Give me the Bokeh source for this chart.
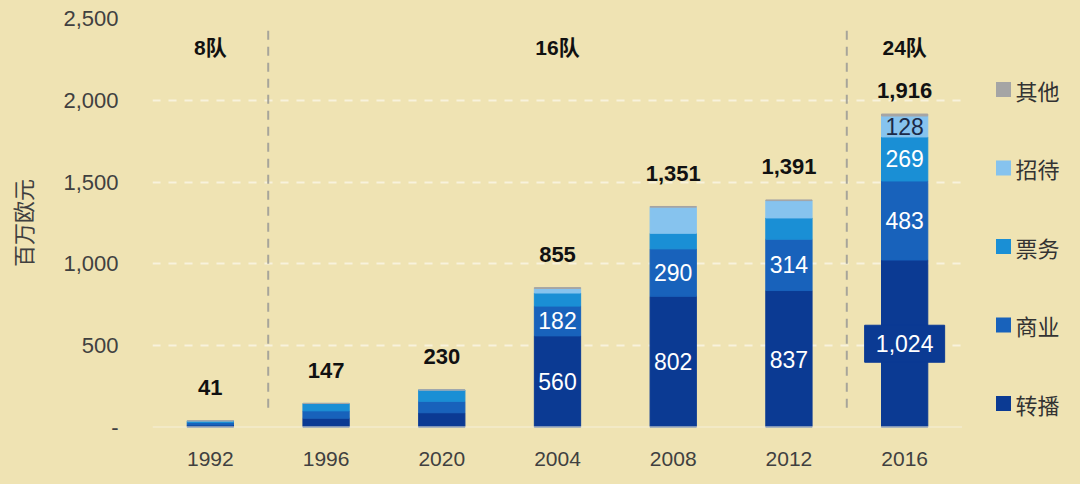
from bokeh.plotting import figure
from bokeh.layouts import row
from bokeh.models import (FactorRange, Range1d, ColumnDataSource, Span, CustomJSTickFormatter)
from bokeh.core.properties import value
from bokeh.embed import file_html
from bokeh.resources import INLINE

# ---------------- data ----------------
years = ["1992", "1996", "2020", "2004", "2008", "2012", "2016"]
series_names = ["转播", "商业", "票务", "招待", "其他"]
series_keys = ["broadcast", "commercial", "ticketing", "hospitality", "other"]
broadcast = [15, 57, 90, 560, 802, 837, 1024]
commercial = [16, 45, 70, 182, 290, 314, 483]
ticketing = [10, 45, 70, 80, 95, 130, 269]
hospitality = [0, 0, 0, 28, 160, 106, 128]
other = [0, 0, 0, 5, 4, 4, 12]
totals = [41, 147, 230, 855, 1351, 1391, 1916]
y_ticks = [0, 500, 1000, 1500, 2000, 2500]
groups = ["8队", "16队", "24队"]
group_years = ["1992", "2004", "2016"]
divider_after = ["1992", "2012"]
labeled_segments = [("2004", "broadcast"), ("2004", "commercial"),
                    ("2008", "broadcast"), ("2008", "commercial"),
                    ("2012", "broadcast"), ("2012", "commercial"),
                    ("2016", "broadcast"), ("2016", "commercial"),
                    ("2016", "ticketing"), ("2016", "hospitality")]
boxed_segment = ("2016", "broadcast")

# ---------------- style ----------------
bg = "#efe3b3"
colors = ["#0b3a93", "#1862bb", "#1a8fd5", "#86c3ee", "#a5a5a5"]
num_font = "Liberation Sans"
cjk_font = "Noto Sans CJK SC"
mixed_font = "Liberation Sans, Noto Sans CJK SC"
W_MAIN, W_LEG, H = 962, 102, 468
B_TOP, B_BOTTOM = 18, 41

data = dict(zip(series_keys, [broadcast, commercial, ticketing, hospitality, other]))
src = ColumnDataSource(dict(years=years, **data))

p = figure(x_range=FactorRange(factors=years), y_range=Range1d(0, 2500),
           width=W_MAIN, height=H, output_backend="svg", toolbar_location=None,
           min_border_left=152, min_border_right=0, min_border_top=B_TOP,
           min_border_bottom=B_BOTTOM)
p.background_fill_color = bg
p.border_fill_color = bg
p.outline_line_color = None
p.styles = {"background-color": bg}

# grid
p.xgrid.visible = False
p.ygrid.grid_line_color = "#f8f2dc"
p.ygrid.grid_line_width = 2
p.ygrid.grid_line_dash = "8 8"
p.add_layout(Span(location=0, dimension="width", line_color="#f6f0da", line_width=2))

# separators
sep_src = ColumnDataSource(dict(x=[(y, 0.5) for y in divider_after],
                                y0=[120] * len(divider_after),
                                y1=[2460] * len(divider_after)))
p.segment(x0="x", y0="y0", x1="x", y1="y1", source=sep_src,
          line_color="#a7a59a", line_width=2, line_dash="9 7")

# bars
renderers = p.vbar_stack(series_keys, x="years", width=0.4, color=colors, source=src)

# box behind 1,024
bi = years.index(boxed_segment[0])
bv = data[boxed_segment[1]][bi]
p.rect(x=[boxed_segment[0]], y=[bv / 2], width=80, height=37,
       width_units="screen", height_units="screen", color=colors[0])

# segment labels
lx, ly, lt, lc = [], [], [], []
for yr, key in labeled_segments:
    i = years.index(yr)
    k = series_keys.index(key)
    base = sum(data[series_keys[j]][i] for j in range(k))
    v = data[key][i]
    lx.append(yr)
    ly.append(base + v / 2)
    lt.append(f"{v:,}")
    lc.append("#1b2a48" if key == "hospitality" else "#ffffff")
p.text(x=lx, y=ly, text=lt, text_color=lc, text_align="center",
       text_baseline="middle", text_font=value(num_font), text_font_size="23px")

# totals
toff = [-24 if t > 1800 else -33 for t in totals]
tsrc = ColumnDataSource(dict(x=years, y=totals, t=[f"{t:,}" for t in totals], off=toff))
p.text(x="x", y="y", text="t", y_offset="off", source=tsrc, text_align="center",
       text_baseline="middle", text_font=value(num_font), text_font_size="22px",
       text_font_style="bold", text_color="#111111")

# group labels
p.text(x=group_years, y=[2325] * len(groups), text=groups, text_align="center",
       text_baseline="middle", text_font=value(mixed_font), text_font_size="21px",
       text_font_style="bold", text_color="#111111")

# axes
p.yaxis.ticker = y_ticks
p.yaxis.formatter = CustomJSTickFormatter(
    code="return tick == 0 ? '-' : tick.toLocaleString('en-US');")
for ax in (p.xaxis[0], p.yaxis[0]):
    ax.axis_line_color = None
    ax.major_tick_line_color = None
    ax.minor_tick_line_color = None
    ax.major_label_text_color = "#404040"
    ax.major_label_text_font = num_font
p.yaxis.major_label_text_font_size = "22px"
p.xaxis.major_label_text_font_size = "21px"
p.yaxis.major_label_standoff = 28
p.xaxis.major_label_standoff = 18
p.yaxis.axis_label = "百万欧元"
p.yaxis.axis_label_text_font = cjk_font
p.yaxis.axis_label_text_font_size = "22px"
p.yaxis.axis_label_text_font_style = "normal"
p.yaxis.axis_label_text_color = "#404040"
p.yaxis.axis_label_standoff = 22

# ---------------- legend panel (separate figure, y in screen pixels) ----------------
leg_top, leg_step = 89, 78.5
leg_names = list(reversed(series_names))
leg_colors = list(reversed(colors))
leg_y = [leg_top + i * leg_step for i in range(len(leg_names))]

q = figure(x_range=Range1d(0, W_LEG), y_range=Range1d(H - B_BOTTOM, B_TOP),
           width=W_LEG, height=H, output_backend="svg", toolbar_location=None,
           min_border_left=0, min_border_right=0, min_border_top=B_TOP,
           min_border_bottom=B_BOTTOM)
q.background_fill_color = bg
q.border_fill_color = bg
q.outline_line_color = None
q.styles = {"background-color": bg}
q.axis.visible = False
q.grid.visible = False
q.scatter(x=[41] * len(leg_names), y=leg_y, marker="square", size=15,
          color=leg_colors, line_color=None)
q.text(x=[53] * len(leg_names), y=leg_y, text=leg_names, text_baseline="middle",
       text_align="left", text_font=value(cjk_font), text_font_size="22px",
       text_color="#333333")

layout = row(p, q, spacing=0)
layout.styles = {"background-color": bg}
html = file_html(layout, INLINE)
html = html.replace("</head>",
                    "<style>html, body { background-color: %s; }</style></head>" % bg, 1)
open("out.html", "w").write(html)
